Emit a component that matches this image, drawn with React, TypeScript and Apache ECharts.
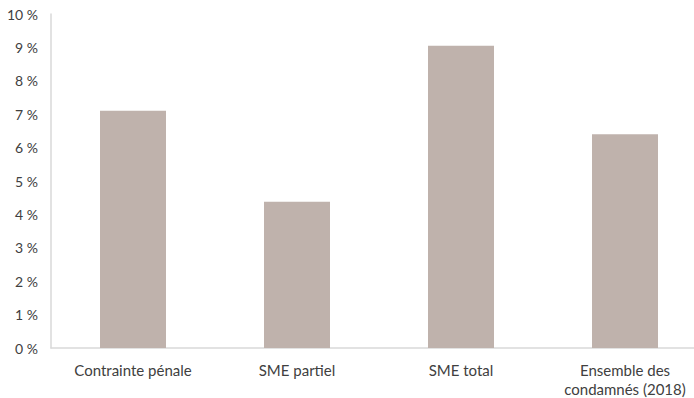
import React, { useEffect, useRef } from "react";
import * as echarts from "echarts";

const categories = ["Contrainte pénale", "SME partiel", "SME total", "Ensemble des\ncondamnés (2018)"];
const values = [7.1, 4.38, 9.05, 6.4];
const yTicks = [0, 1, 2, 3, 4, 5, 6, 7, 8, 9, 10];

export default function App() {
  const ref = useRef<HTMLDivElement>(null);
  useEffect(() => {
    if (!ref.current) return;
    const chart = echarts.init(ref.current, undefined, { renderer: "svg" });
    chart.setOption({
      animation: false,
      backgroundColor: "#ffffff",
      textStyle: { fontFamily: "Lato" },
      grid: { left: 51, right: 0, top: 14, bottom: 48, containLabel: false },
      xAxis: {
        type: "category",
        data: categories,
        axisLine: { lineStyle: { color: "#d9d9d9", width: 1.5 } },
        axisTick: { show: false },
        axisLabel: { color: "#404040", fontSize: 15, margin: 12, lineHeight: 19, fontFamily: "Lato" },
      },
      yAxis: {
        type: "value",
        min: yTicks[0],
        max: yTicks[yTicks.length - 1],
        interval: 1,
        axisLine: { show: true, lineStyle: { color: "#d9d9d9", width: 1.5 } },
        axisTick: { show: false },
        splitLine: { show: false },
        axisLabel: { color: "#404040", fontSize: 14, margin: 13, formatter: "{value} %", fontFamily: "Lato" },
      },
      series: [
        {
          type: "bar",
          data: values,
          barWidth: 66,
          itemStyle: { color: "#bfb2ac" },
        },
      ],
    });
    return () => chart.dispose();
  }, []);
  return (
    <div style={{ position: "fixed", left: 0, top: 0, width: 694, height: 398, overflow: "hidden", background: "#fff" }}>
      <div ref={ref} style={{ width: 707, height: 398 }} />
    </div>
  );
}
